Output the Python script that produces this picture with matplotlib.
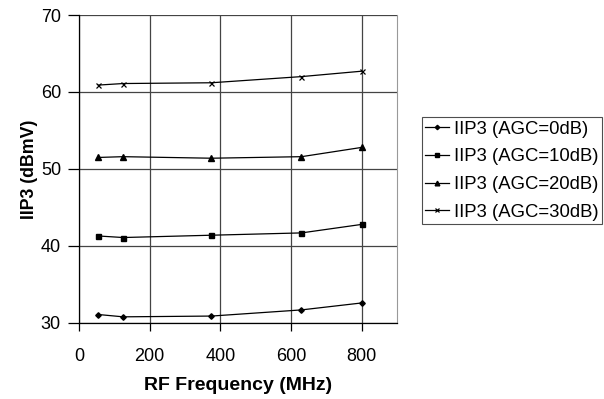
import matplotlib
matplotlib.use('Agg')
import matplotlib.pyplot as plt

plt.rcParams['font.family'] = ['Liberation Sans', 'DejaVu Sans']

# RF frequency points (MHz)
freq = [55, 125, 375, 630, 800]

# IIP3 (dBmV) for each AGC setting
iip3_agc0 = [31.1, 30.8, 30.9, 31.7, 32.6]
iip3_agc10 = [41.3, 41.1, 41.4, 41.7, 42.8]
iip3_agc20 = [51.5, 51.6, 51.4, 51.6, 52.8]
iip3_agc30 = [60.9, 61.1, 61.2, 62.0, 62.7]

labels = ['IIP3 (AGC=0dB)', 'IIP3 (AGC=10dB)', 'IIP3 (AGC=20dB)', 'IIP3 (AGC=30dB)']

fig = plt.figure(figsize=(6.04, 3.99), dpi=100)
ax = fig.add_axes([0.1308, 0.1905, 0.5262, 0.7719])

ax.plot(freq, iip3_agc0, color='black', lw=0.9, marker='D', ms=2.8, label=labels[0])
ax.plot(freq, iip3_agc10, color='black', lw=0.9, marker='s', ms=3.6, label=labels[1])
ax.plot(freq, iip3_agc20, color='black', lw=0.9, marker='^', ms=4.2, label=labels[2])
ax.plot(freq, iip3_agc30, color='black', lw=0.9, marker='x', ms=3.6, mew=0.9, label=labels[3])

ax.set_xlim(0, 900)
ax.set_ylim(30, 70)
ax.set_xticks([0, 200, 400, 600, 800])
ax.set_yticks([30, 40, 50, 60, 70])
ax.grid(True, color='#444444', lw=0.9)
ax.set_axisbelow(True)

ax.spines['top'].set_visible(False)
ax.spines['right'].set_color('#999999')
ax.spines['left'].set_linewidth(0.9)
ax.spines['bottom'].set_linewidth(0.9)
ax.tick_params(axis='y', direction='out', length=8, width=0.9, labelsize=13, pad=5)
ax.tick_params(axis='x', direction='out', length=6, width=0.9, labelsize=13, pad=12)

ax.set_xlabel('RF Frequency (MHz)', fontsize=14, fontweight='bold', labelpad=9)
ax.set_ylabel('IIP3 (dBmV)', fontsize=12.8, fontweight='bold', labelpad=2)

leg = fig.legend(loc='upper left', bbox_to_anchor=(0.698, 0.707), fontsize=13.3,
                 frameon=True, fancybox=False, edgecolor='#222222', handlelength=1.3,
                 handletextpad=0.25, borderaxespad=0, labelspacing=0.58, borderpad=0.2,
                 markerscale=0.8)
leg.get_frame().set_linewidth(0.8)

fig.savefig('out.png', dpi=100)
